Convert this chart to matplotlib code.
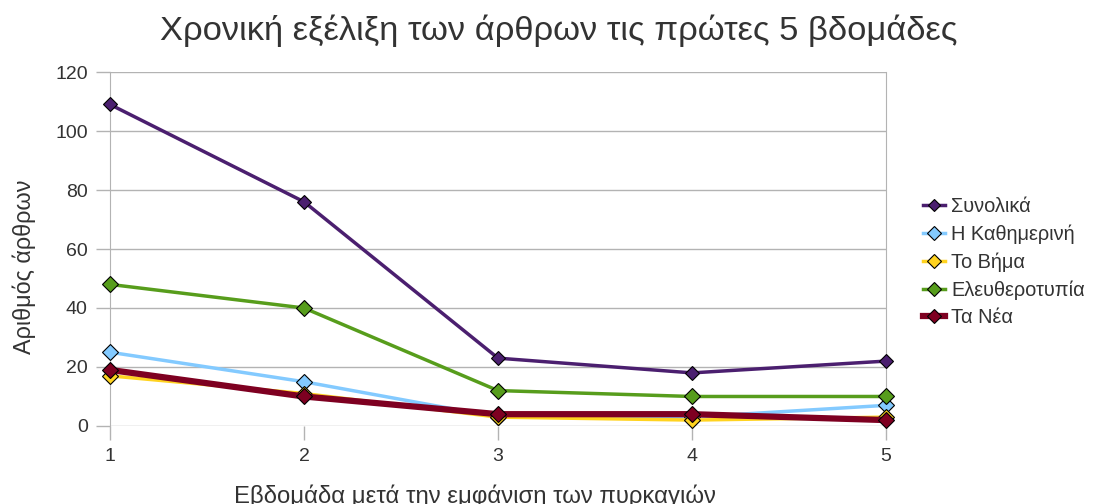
import matplotlib
matplotlib.use("Agg")
from matplotlib import pyplot as plt

plt.rcParams['font.family'] = ['Liberation Sans', 'DejaVu Sans']

weeks = [1, 2, 3, 4, 5]
synolika = [109, 76, 23, 18, 22]
kathimerini = [25, 15, 3, 3, 7]
to_vima = [17, 11, 3, 2, 3]
eleftherotypia = [48, 40, 12, 10, 10]
ta_nea = [19, 10, 4, 4, 2]

series = [
    ("Συνολικά", synolika, "#4B1F6F", 2.5, 7),
    ("Η Καθημερινή", kathimerini, "#83CAFF", 2.5, 8),
    ("Το Βήμα", to_vima, "#FFD320", 2.5, 8),
    ("Ελευθεροτυπία", eleftherotypia, "#579D1C", 2.5, 8),
    ("Τα Νέα", ta_nea, "#7E0021", 4.5, 8),
]

fig = plt.figure(figsize=(10.99, 5.04), dpi=100)
ax = fig.add_axes([0.1001, 0.1548, 0.7061, 0.7023])

for name, vals, col, lw, ms in series:
    ax.plot(weeks, vals, color=col, lw=lw, marker="D", markersize=ms,
            markerfacecolor=col, markeredgecolor="black", markeredgewidth=0.8,
            label=name, clip_on=False, zorder=3)

ax.set_xlim(1, 5)
ax.set_ylim(0, 120)
ax.set_xticks(weeks)
ax.set_yticks(range(0, 121, 20))
ax.grid(axis="y", color="#b3b3b3", lw=1)
ax.set_axisbelow(True)
for s in ["top", "bottom"]:
    ax.spines[s].set_visible(False)
ax.spines["left"].set_color("#b3b3b3")
ax.spines["right"].set_color("#b3b3b3")
ax.tick_params(axis="both", colors="#b3b3b3", labelcolor="#333333",
               labelsize=14, length=10, width=1)
ax.tick_params(axis="x", pad=6)
ax.tick_params(axis="y", pad=6)

fig.text(0.508, 0.938, "Χρονική εξέλιξη των άρθρων τις πρώτες 5 βδομάδες",
         ha="center", va="center", fontsize=24.8, color="#333333")
fig.text(0.432, 0.015, "Εβδομάδα μετά την εμφάνιση των πυρκαγιών",
         ha="center", va="center", fontsize=17.2, color="#333333")
fig.text(0.022, 0.47, "Αριθμός άρθρων", rotation=90,
         ha="center", va="center", fontsize=16.8, color="#333333")

leg = ax.legend(loc="upper left", bbox_to_anchor=(0.833, 0.625),
                bbox_transform=fig.transFigure, frameon=False, fontsize=14.4,
                handlelength=1.1, handletextpad=0.3, labelspacing=0.42,
                borderaxespad=0, markerscale=0.85)
for t in leg.get_texts():
    t.set_color("#333333")

fig.savefig("out.png", dpi=100)
